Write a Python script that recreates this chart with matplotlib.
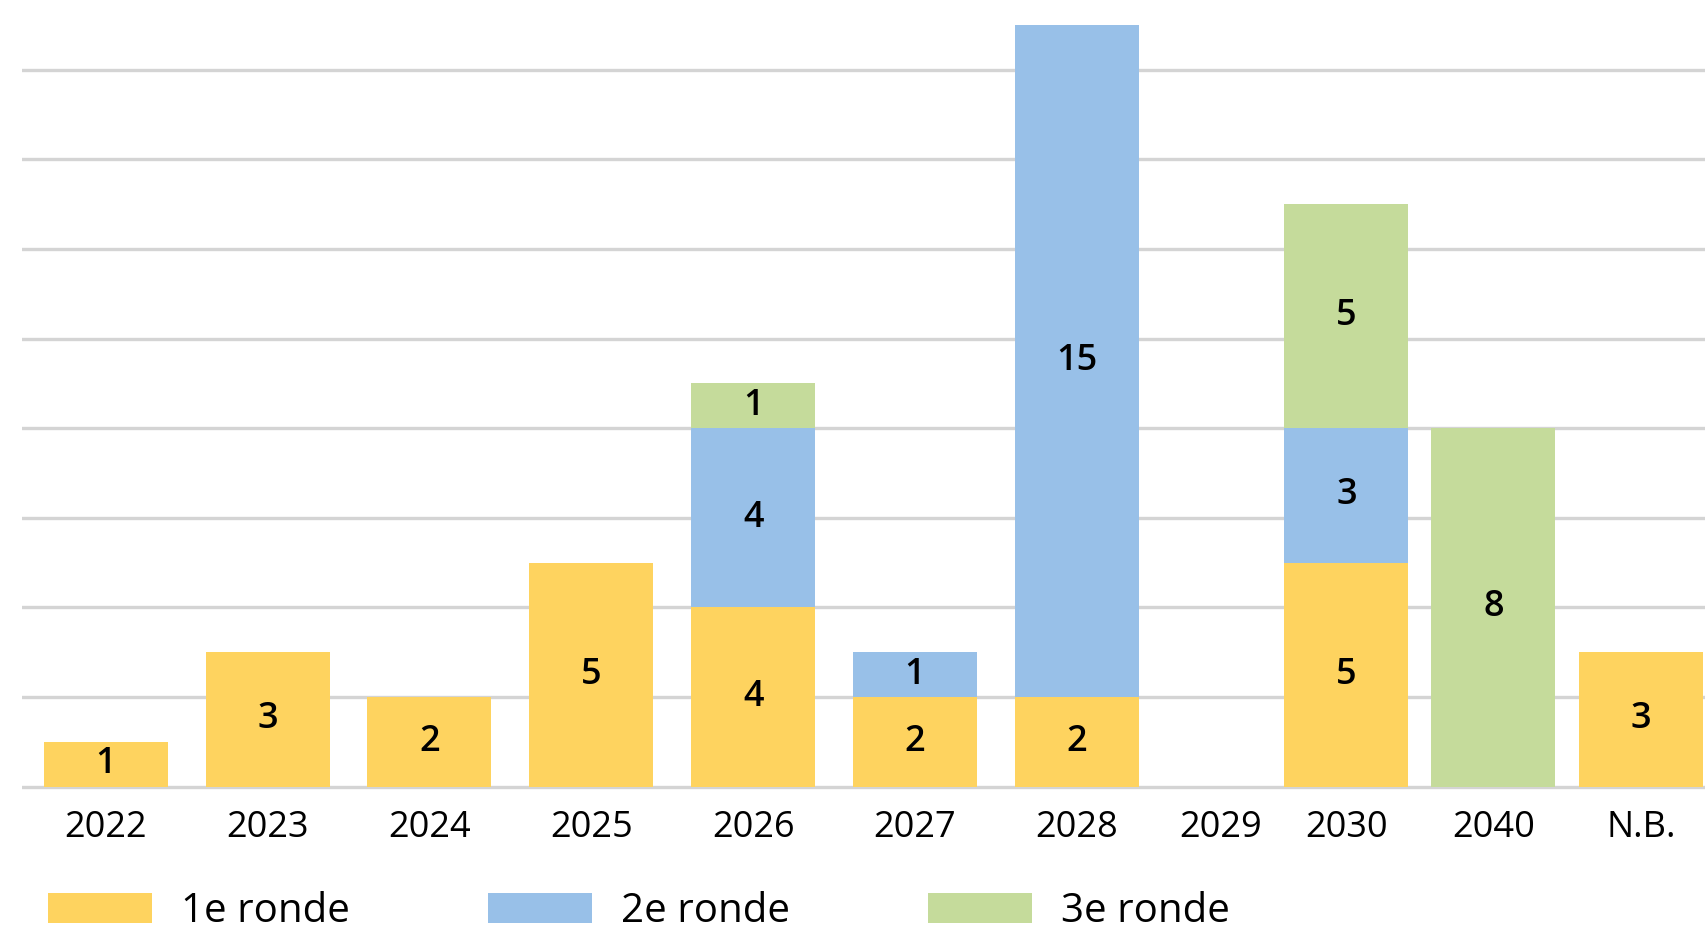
import matplotlib
matplotlib.use("Agg")
import matplotlib.pyplot as plt

# ---- data ----
categories = ['2022', '2023', '2024', '2025', '2026', '2027', '2028', '2029', '2030', '2040', 'N.B.']
ronde1 = [1, 3, 2, 5, 4, 2, 2, 0, 5, 0, 3]
ronde2 = [0, 0, 0, 0, 4, 1, 15, 0, 3, 0, 0]
ronde3 = [0, 0, 0, 0, 1, 0, 0, 0, 5, 8, 0]
series_names = ['1e ronde', '2e ronde', '3e ronde']

# ---- layout (category slot positions as in the original layout) ----
xpos = [0, 1, 2, 3, 4, 5, 6, 6.89, 7.665, 8.572, 9.486]
colors = ['#FED35F', '#98C0E8', '#C5DB9B']

plt.rcParams['font.family'] = ['Open Sans', 'DejaVu Sans']

W, H, DPI = 1706, 933, 100
fig = plt.figure(figsize=(W / DPI, H / DPI), dpi=DPI)

ymin, ymax = -0.5, 17.56
base_px = 786.6
unit_px = 44.8
bottom_px = base_px + (0 - ymin) * unit_px
ax = fig.add_axes([22 / W, 1 - bottom_px / H, 1 - 22 / W, bottom_px / H])
ax.set_xlim(-0.517, 9.886)
ax.set_ylim(ymin, ymax)

width = 0.766
bottoms = [0] * len(categories)
for vals, col, name in zip([ronde1, ronde2, ronde3], colors, series_names):
    bars = ax.bar(xpos, vals, width=width, bottom=bottoms, color=col,
                  label=name, zorder=3, linewidth=0)
    labels = [str(v) if v else '' for v in vals]
    ax.bar_label(bars, labels=labels, label_type='center', fontsize=26,
                 fontweight='semibold', color='black', zorder=4)
    bottoms = [b + v for b, v in zip(bottoms, vals)]

ax.set_yticks(range(0, 17, 2))
ax.yaxis.grid(True, color='#d4d4d4', linewidth=2.4, zorder=0)
ax.set_axisbelow(True)
ax.tick_params(axis='y', length=0, labelleft=False)
ax.set_xticks(xpos)
ax.set_xticklabels(categories, fontsize=26, color='black')
ax.tick_params(axis='x', length=0, pad=0.5)
for s in ax.spines.values():
    s.set_visible(False)

fig.legend(loc='center left', bbox_to_anchor=(48 / W, 1 - 912 / H), ncol=3,
           frameon=False, fontsize=29, handlelength=2.58, handleheight=0.77,
           handletextpad=0.715, columnspacing=3.44, borderpad=0, borderaxespad=0)

fig.savefig('out.png', dpi=DPI)
